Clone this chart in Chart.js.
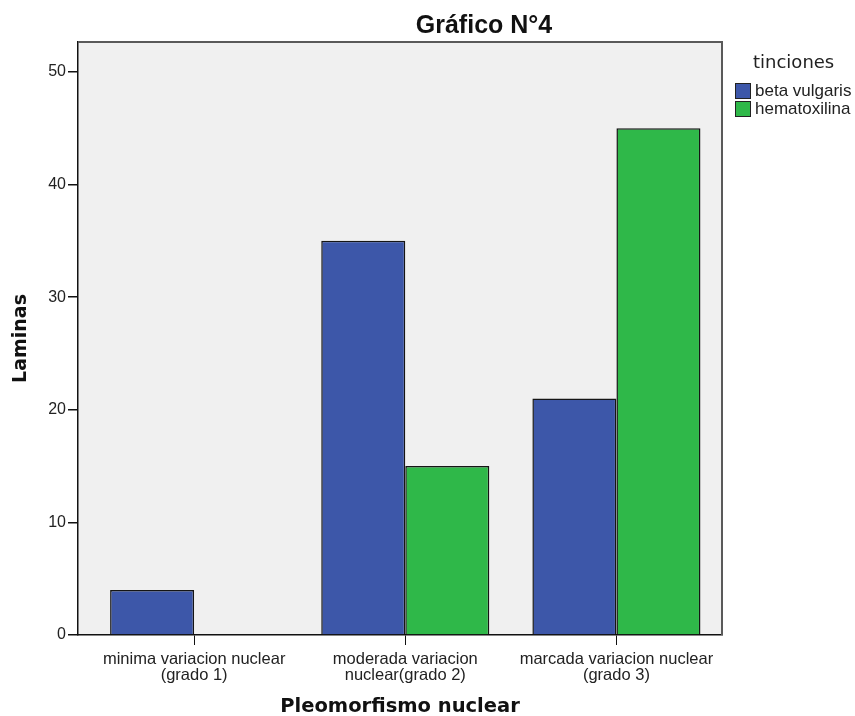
<!DOCTYPE html>
<html>
<head>
<meta charset="utf-8">
<script src="https://cdn.jsdelivr.net/npm/chart.js@4.4.0/dist/chart.umd.min.js"></script>
<style>
  body { margin: 0; background: #fff; }
  #wrap { position: relative; width: 855px; height: 716px; }
  #title { position: absolute; left: 334px; width: 300px; top: 9px; text-align: center;
           font: bold 25px "Liberation Sans", Arial, sans-serif; color: #111; line-height: 30px; }
  #legend { position: absolute; left: 735px; top: 50px; font-family: "Liberation Sans", Arial, sans-serif; color: #222; }
  #legend .lt { font-family: "DejaVu Sans", sans-serif; font-size: 18px; margin-left: 18px; height: 24px; line-height: 24px; margin-bottom: 8px; }
  #legend .it { display: flex; align-items: center; font-size: 17px; height: 18px; }
  #legend .sw { width: 14px; height: 14px; border: 1px solid #222; margin-right: 4px; }
</style>
</head>
<body>
<div id="wrap">
  <canvas id="myChart" width="855" height="716"></canvas>
  <div id="title">Gráfico N°4</div>
  <div id="legend"></div>
</div>
<script>
// Chart data
const categories = [
    ["minima variacion nuclear", "(grado 1)"],
    ["moderada variacion", "nuclear(grado 2)"],
    ["marcada variacion nuclear", "(grado 3)"]
];
const seriesNames = ["beta vulgaris", "hematoxilina"];
const betaVulgaris = [4, 35, 21];
const hematoxilina = [0, 15, 45];
const yTicks = [0, 10, 20, 30, 40, 50];
const colors = ["#3d57a9", "#2fb849"];

// Build the HTML legend
const legend = document.getElementById("legend");
let html = '<div class="lt">tinciones</div>';
seriesNames.forEach((name, i) => {
    html += `<div class="it"><span class="sw" style="background:${colors[i]}"></span>${name}</div>`;
});
legend.innerHTML = html;

// Paint the plot background and frame
const framePlugin = {
    id: "frame",
    beforeDraw(chart) {
        const { ctx, chartArea: a } = chart;
        ctx.save();
        ctx.fillStyle = "#f0f0f0";
        ctx.fillRect(a.left, a.top, a.right - a.left, a.bottom - a.top);
        ctx.restore();
    },
    afterDraw(chart) {
        const { ctx, chartArea: a } = chart;
        ctx.save();
        ctx.strokeStyle = "#5a5a5a";
        ctx.lineWidth = 2;
        ctx.beginPath();
        ctx.moveTo(a.left, a.top);
        ctx.lineTo(a.right, a.top);
        ctx.lineTo(a.right, a.bottom);
        ctx.stroke();
        ctx.restore();
    }
};

const toPoints = arr => arr.map((v, i) => ({ x: i, y: v }));

const chartData = {
    datasets: seriesNames.map((name, i) => ({
        label: name,
        data: toPoints(i === 0 ? betaVulgaris : hematoxilina),
        backgroundColor: colors[i],
        borderColor: "#151515",
        borderWidth: 1.5
    }))
};

const chartOptions = {
    responsive: false,
    animation: false,
    layout: { padding: { top: 42, right: 133, left: 0, bottom: 0 } },
    datasets: { bar: { categoryPercentage: 0.796, barPercentage: 1.0 } },
    plugins: { legend: { display: false }, title: { display: false }, tooltip: { enabled: false } },
    scales: {
        x: {
            type: "linear",
            offset: false,
            min: -0.55,
            max: 2.5,
            afterBuildTicks: scale => { scale.ticks = categories.map((c, i) => ({ value: i })); },
            afterFit: scale => { scale.height = 81; },
            grid: { offset: false, drawOnChartArea: false, drawTicks: true, tickLength: 10, color: "#111" },
            border: { color: "#111", width: 1.5 },
            ticks: {
                autoSkip: false,
                maxRotation: 0,
                padding: 6,
                color: "#222",
                font: { family: "'Liberation Sans', Arial", size: 16.5, lineHeight: "16px" },
                callback: v => categories[v]
            },
            title: {
                display: true,
                text: "Pleomorfismo nuclear",
                color: "#111",
                font: { family: "'DejaVu Sans'", size: 19.5, weight: "bold", lineHeight: 0.9 },
                padding: { top: 0, bottom: 0 }
            }
        },
        y: {
            min: 0,
            max: 52.66,
            afterBuildTicks: scale => { scale.ticks = yTicks.map(v => ({ value: v })); },
            afterFit: scale => { scale.width = 78; },
            grid: { drawOnChartArea: false, drawTicks: true, tickLength: 10, color: "#111", lineWidth: 1.5 },
            border: { color: "#111", width: 1.5 },
            ticks: {
                padding: 2,
                color: "#222",
                font: { family: "'Liberation Sans', Arial", size: 16 }
            },
            title: {
                display: true,
                text: "Laminas",
                color: "#111",
                font: { family: "'DejaVu Sans'", size: 19, weight: "bold" },
                padding: { top: 10, bottom: 0 }
            }
        }
    }
};

const myChart = new Chart(document.getElementById("myChart"), {
    type: "bar",
    data: chartData,
    options: chartOptions,
    plugins: [framePlugin]
});
</script>
</body>
</html>
